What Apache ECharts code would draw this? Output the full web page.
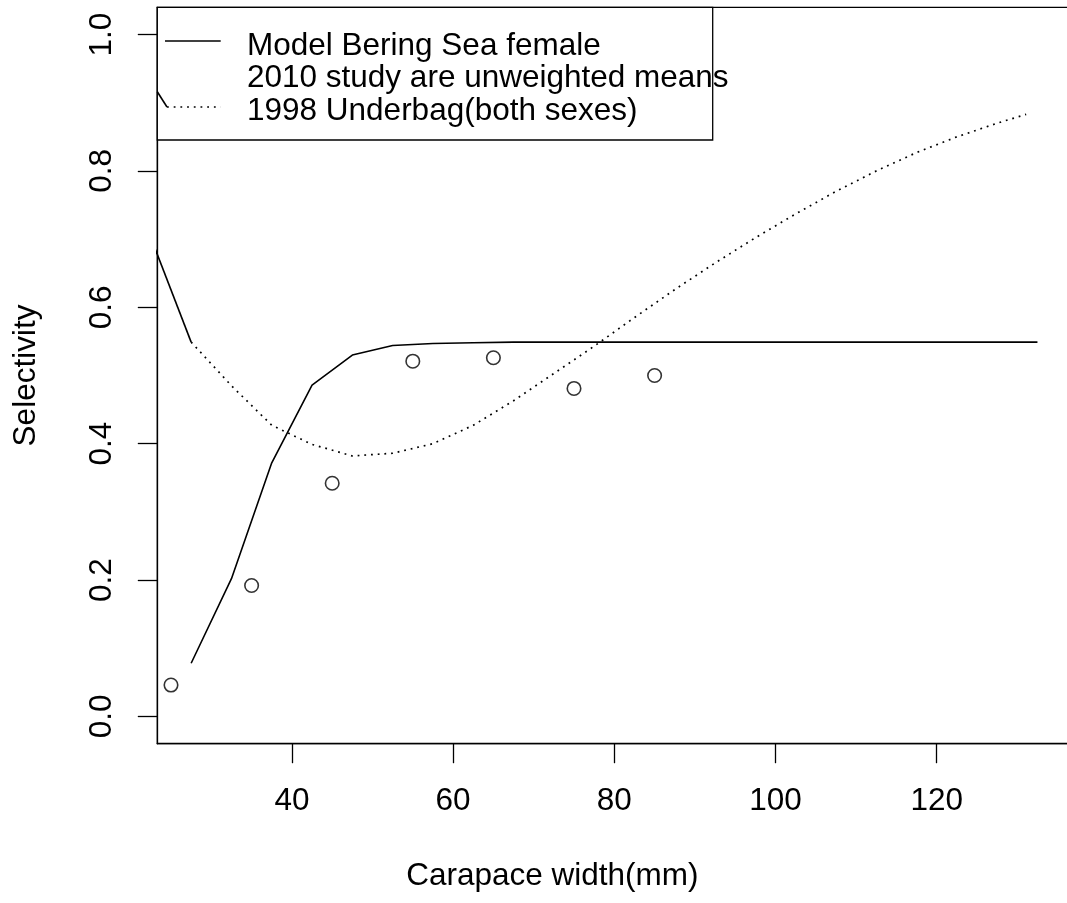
<!DOCTYPE html>
<html>
<head>
<meta charset="utf-8">
<script src="https://cdn.jsdelivr.net/npm/echarts@6/dist/echarts.min.js"></script>
<style>
html,body{margin:0;padding:0;background:#fff;}
#chart{width:1067px;height:903px;}
</style>
</head>
<body>
<div id="chart"></div>
<script>
// ---- data ----
const modelX = [27.5,32.5,37.5,42.5,47.5,52.5,57.5,62.5,67.5,72.5,77.5,82.5,87.5,92.5,97.5,102.5,107.5,112.5,117.5,122.5,127.5,132.5];
const modelY = [0.078,0.202,0.372,0.486,0.530,0.544,0.547,0.548,0.549,0.549,0.549,0.549,0.549,0.549,0.549,0.549,0.549,0.549,0.549,0.549,0.549,0.549];

const studyX = [25,35,45,55,65,75,85];
const studyY = [0.046,0.192,0.342,0.521,0.526,0.481,0.500];

const underbagX = [27.5,32.5,37.5,42.5,47.5,52.5,57.5,62.5,67.5,72.5,77.5,82.5,87.5,92.5,97.5,102.5,107.5,112.5,117.5,122.5,127.5,131.1];
const underbagY = [0.549,0.485,0.427,0.399,0.382,0.386,0.400,0.427,0.463,0.503,0.543,0.585,0.626,0.665,0.702,0.737,0.770,0.800,0.827,0.850,0.870,0.883];
// solid lead-in segment of the underbag curve (enters from outside the left edge)
const leadX = [22.5,27.5];
const leadY = [0.702,0.549];

const xTicks = [40,60,80,100,120];
const yTicks = [0,0.2,0.4,0.6,0.8,1.0];

const legendLabels = ['Model Bering Sea female','2010 study are unweighted means','1998 Underbag(both sexes)'];

const zip = (xs, ys) => xs.map((x, i) => [x, ys[i]]);

const FONT = 'Liberation Sans, Arial, sans-serif';
const FS = 31.5;

const chart = echarts.init(document.getElementById('chart'), null, {renderer:'canvas'});

const option = {
  backgroundColor:'#fff',
  animation:false,
  grid:{left:157.3, top:7.3, width:914, height:736.4, show:true, borderColor:'#000', borderWidth:1.3,
    backgroundColor:'transparent', containLabel:false, outerBoundsMode:'none'},
  xAxis:{
    type:'value', min:23.3, max:136.7, position:'bottom',
    name:'Carapace width(mm)', nameLocation:'middle', nameGap:117,
    nameTextStyle:{color:'#000', fontFamily:FONT, fontSize:FS, padding:[0,124,0,0]},
    axisLine:{show:true, onZero:false, lineStyle:{color:'#000', width:1.3}},
    splitLine:{show:false},
    axisTick:{show:true, inside:false, length:19.5, customValues:xTicks, lineStyle:{color:'#000', width:1.3}},
    axisLabel:{show:true, margin:42, customValues:xTicks, color:'#000', fontFamily:FONT, fontSize:FS,
      formatter:v => String(v)}
  },
  yAxis:{
    type:'value', min:-0.04, max:1.04, position:'left',
    name:'Selectivity', nameLocation:'middle', nameGap:115,
    nameTextStyle:{color:'#000', fontFamily:FONT, fontSize:FS},
    axisLine:{show:true, onZero:false, lineStyle:{color:'#000', width:1.3}},
    splitLine:{show:false},
    axisTick:{show:true, inside:false, length:19.5, customValues:yTicks, lineStyle:{color:'#000', width:1.3}},
    axisLabel:{show:true, margin:39, rotate:90, customValues:yTicks, color:'#000', fontFamily:FONT, fontSize:FS,
      formatter:v => v.toFixed(1)}
  },
  series:[
    {name:legendLabels[0], type:'line', data:zip(modelX, modelY), showSymbol:false, symbol:'none',
      lineStyle:{color:'#000', width:1.6}, clip:true},
    {name:legendLabels[1], type:'scatter', data:zip(studyX, studyY), symbol:'circle', symbolSize:13.5,
      itemStyle:{color:'rgba(0,0,0,0)', borderColor:'#000', borderWidth:1.6}},
    {name:legendLabels[2], type:'line', data:zip(underbagX, underbagY), showSymbol:false, symbol:'none',
      lineStyle:{color:'#000', width:1.7, type:[1.8,4.9], cap:'butt'}, clip:true},
    {name:legendLabels[2]+' lead-in', type:'line', data:zip(leadX, leadY), showSymbol:false, symbol:'none',
      lineStyle:{color:'#000', width:1.6}, clip:true}
  ],
  graphic:[
    {type:'rect', shape:{x:157.3, y:7.3, width:555.4, height:132.7}, style:{fill:'#fff', stroke:'#000', lineWidth:1.3}, z:10},
    {type:'line', shape:{x1:165, y1:41, x2:220.7, y2:41}, style:{stroke:'#000', lineWidth:1.6}, z:11},
    {type:'line', shape:{x1:157.3, y1:91.7, x2:167, y2:107}, style:{stroke:'#000', lineWidth:1.6}, z:11},
    {type:'line', shape:{x1:167, y1:107, x2:220.7, y2:107}, style:{stroke:'#000', lineWidth:1.7, lineDash:[1.8,4.9]}, z:11},
    {type:'text', x:247, y:45.9, style:{text:legendLabels[0], fill:'#000', font:FS+'px '+FONT, verticalAlign:'middle', align:'left'}, z:11},
    {type:'text', x:247, y:78.7, style:{text:legendLabels[1], fill:'#000', font:FS+'px '+FONT, verticalAlign:'middle', align:'left'}, z:11},
    {type:'text', x:247, y:110.9, style:{text:legendLabels[2], fill:'#000', font:FS+'px '+FONT, verticalAlign:'middle', align:'left'}, z:11}
  ]
};
chart.setOption(option);
</script>
</body>
</html>
